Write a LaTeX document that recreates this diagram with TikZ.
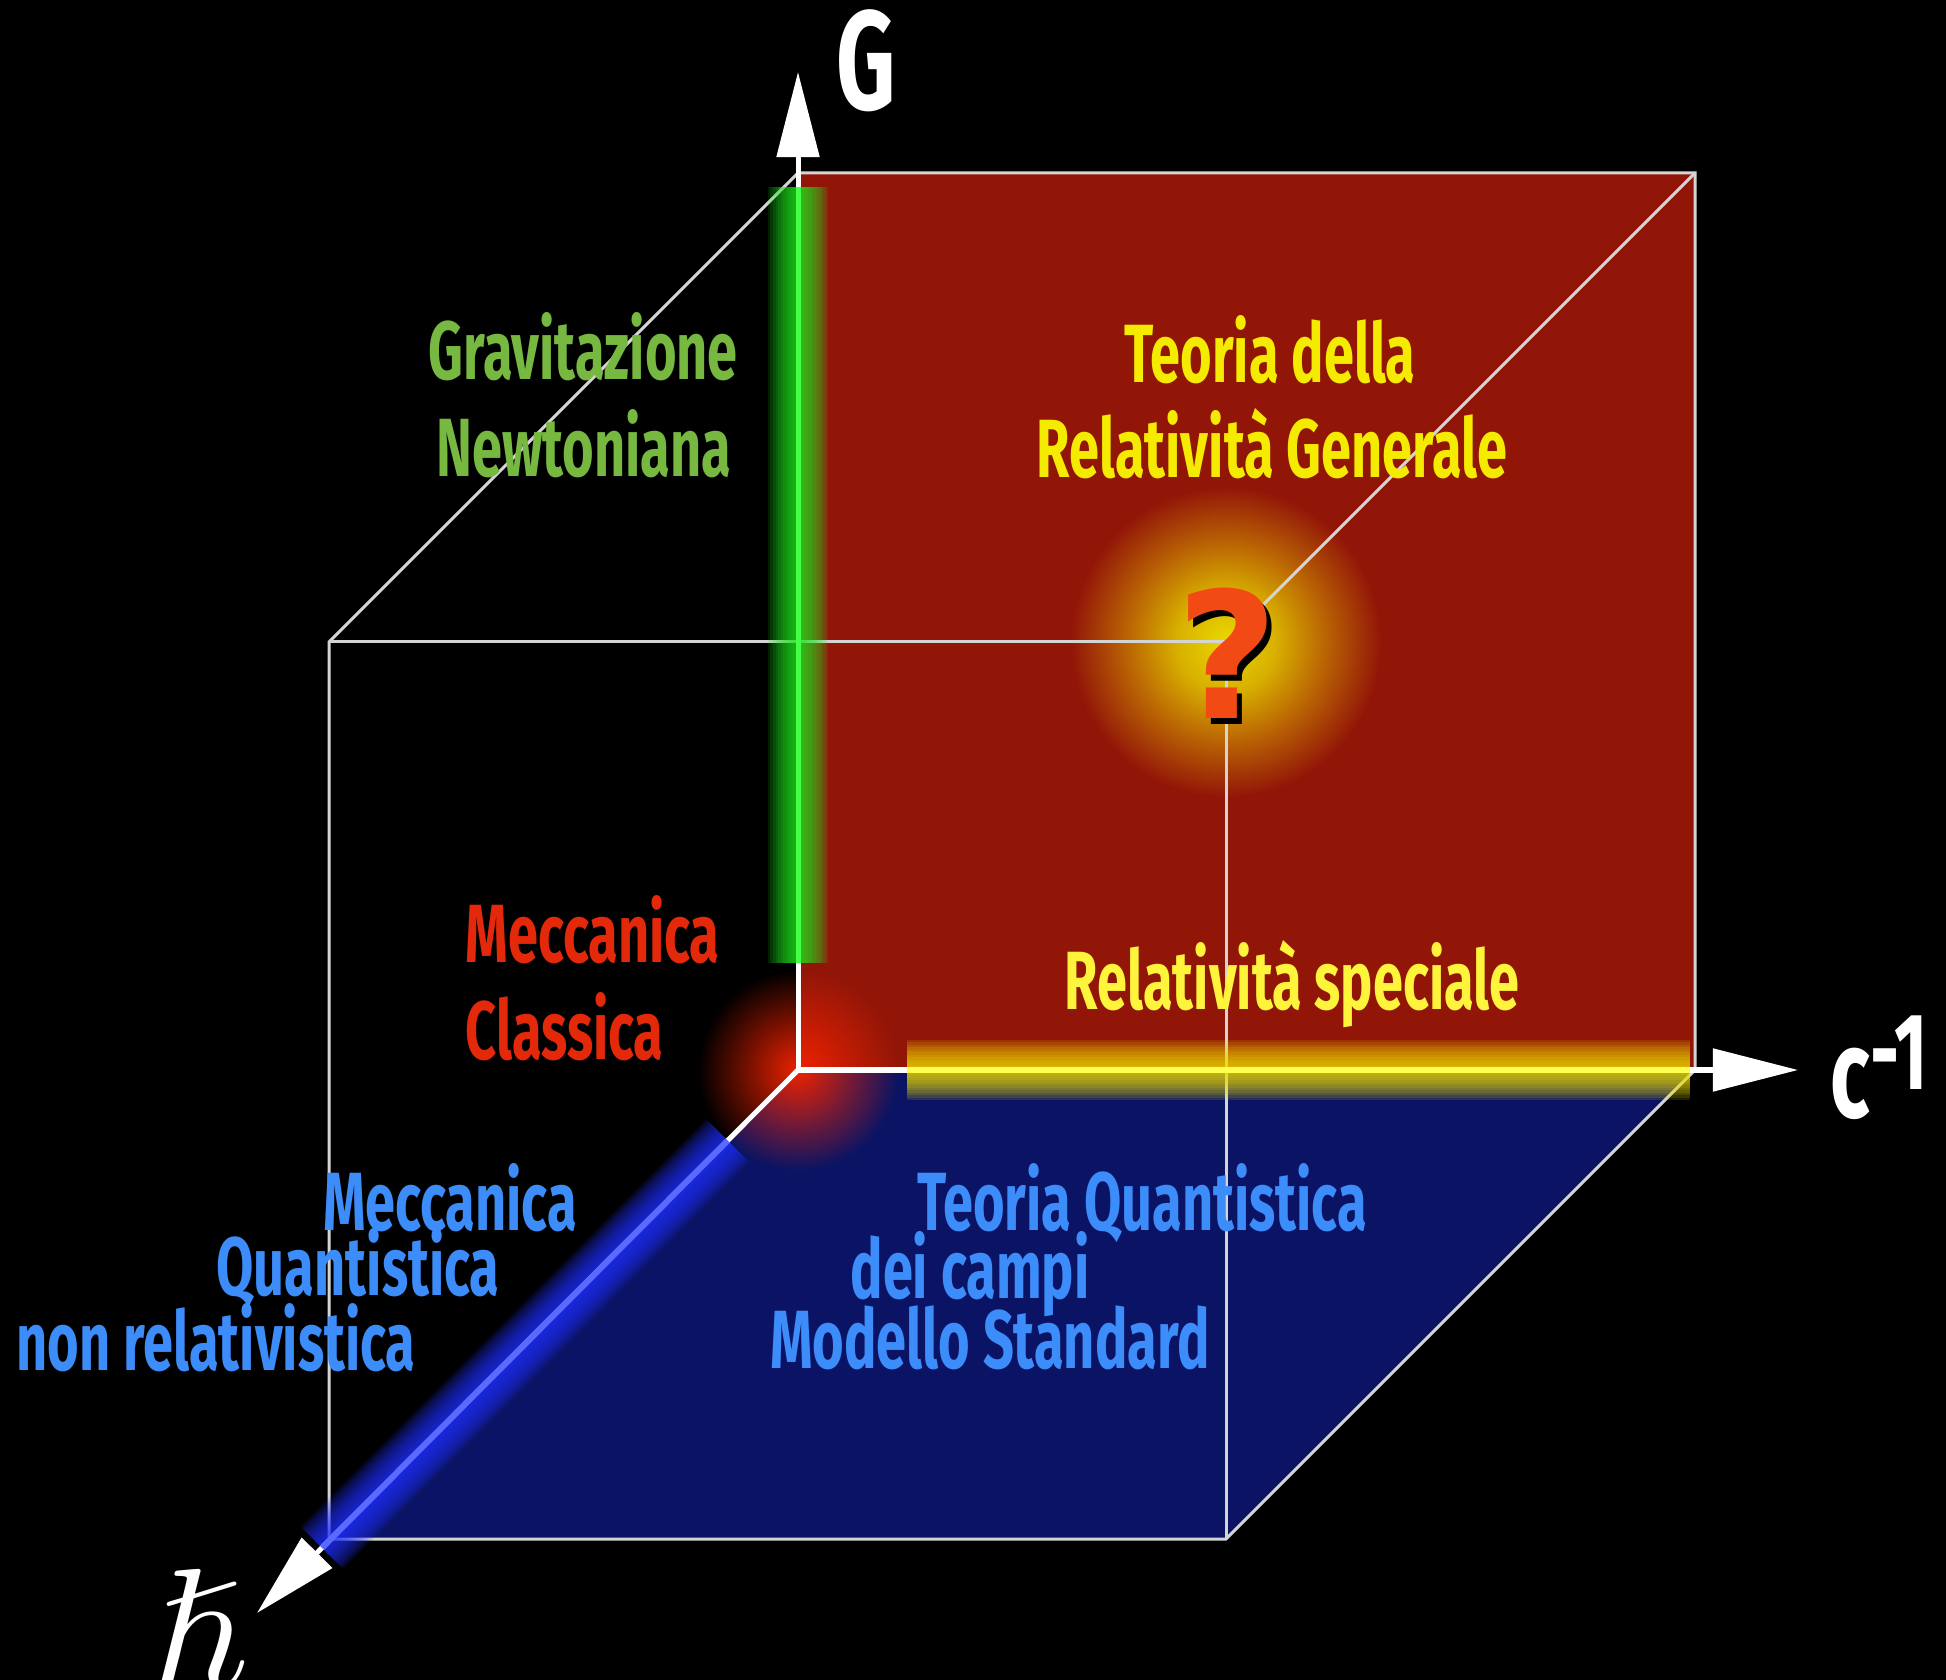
\documentclass[tikz,border=0pt]{standalone}
\usepackage{amsmath,amssymb}
\usepackage{fontspec}
\setmainfont{Fira Sans}[FakeStretch=0.655]
\newfontfamily\qmfont{DejaVu Sans}
\usetikzlibrary{arrows.meta, calc, fadings}
\definecolor{redface}{HTML}{921608}
\definecolor{blueface}{HTML}{0B1464}
\definecolor{edgegray}{HTML}{D4D4D4}
\definecolor{newton}{HTML}{76B840}
\definecolor{relgen}{HTML}{F5EB00}
\definecolor{relspec}{HTML}{FFF43C}
\definecolor{classic}{HTML}{E4280A}
\definecolor{quant}{HTML}{3C8CFA}
\definecolor{ggreen}{HTML}{1EE61E}
\definecolor{gcore}{HTML}{44FF44}
\definecolor{gyellow}{HTML}{F0E000}
\definecolor{ycore}{HTML}{FFFF50}
\definecolor{gblue}{HTML}{2030FF}
\definecolor{bcore}{HTML}{5A6AFF}
\definecolor{gred}{HTML}{EE2200}
\definecolor{qyellow}{HTML}{EAD800}
\definecolor{qgold}{HTML}{D8B000}
\definecolor{qamber}{HTML}{BA6404}
\definecolor{qmark}{HTML}{F24A15}
\tikzfading[name=softdisc, inner color=transparent!0, outer color=transparent!100]
\pgfdeclareradialshading{qglow}{\pgfpoint{0bp}{0bp}}{color(0bp)=(qyellow); color(8bp)=(qgold); color(16bp)=(qamber); color(25bp)=(redface); color(50bp)=(redface)}

\begin{document}
\begin{tikzpicture}[x=0.01cm, y=-0.01cm,
  axis/.style={draw=white, line width=0.05cm, -{Triangle[length=0.85cm, width=0.42cm]}},
  edge/.style={draw=edgegray, line width=0.03cm},
  glow/.style={line width=#1, opacity=0.13},
  lab/.style={font=\fontsize{23.5}{28}\selectfont\bfseries, inner sep=0pt, anchor=base},
  axl/.style={text=white, inner sep=0pt, anchor=base}]
  \fill[black] (0,0) rectangle (1946,1680);
  \useasboundingbox (0,0) rectangle (1946,1680);
  % --- cube corners ---
  \coordinate (O) at (798,1070);
  \coordinate (Bx) at (1695,1070);
  \coordinate (Bt) at (1695,173);
  \coordinate (Gt) at (798,173);
  \coordinate (F1) at (329,1539);
  \coordinate (F2) at (1226,1539);
  \coordinate (F3) at (1226,642);
  \coordinate (F4) at (329,642);
  \coordinate (Gtip) at (798,72);
  \coordinate (Ctip) at (1798,1070);
  \coordinate (Htip) at (257,1613);
  % --- faces ---
  \fill[redface] (O) rectangle (Bt);
  \fill[blueface] (O) -- (Bx) -- (F2) -- (F1) -- cycle;
  \shade[shading=qglow] (F3) circle (1.55cm);
  \fill[gred, path fading=softdisc] (O) circle (1.0cm);
  % --- cube edges ---
  \draw[edge] (Gt) -- (Bt) -- (Bx) -- (F2) -- (F1) -- (F4) -- cycle;
  \draw[edge] (F4) -- (F3) -- (F2);
  \draw[edge] (Bt) -- (F3);
  % --- glows along the axes ---
  \coordinate (g0) at (798,187);
  \coordinate (g1) at (798,963);
  \coordinate (y0) at (907,1070);
  \coordinate (y1) at (1690,1070);
  \coordinate (b0) at ($(O)!0.13!(Htip)$);
  \coordinate (b1) at ($(O)!0.88!(Htip)$);
  \foreach \w in {0.5,1.0,...,6.0}{
    \draw[ggreen, glow=\w mm] (g0) -- (g1);
    \draw[gyellow, glow=\w mm] (y0) -- (y1);
    \draw[gblue, glow=\w mm] (b0) -- (b1);
  }
  % --- axes ---
  \draw[axis] (O) -- (Gtip);
  \draw[axis] (O) -- (Ctip);
  \draw[axis] (O) -- (Htip);
  \draw[gcore, line width=0.05cm] (g0) -- (g1);
  \draw[ycore, line width=0.06cm] (y0) -- (y1);
  \draw[bcore, line width=0.06cm] (b0) -- (b1);
  % --- axis labels ---
  \node[axl, font=\fontsize{40}{40}\selectfont\bfseries] (glab) at (866,110) {G};
  \node[axl, anchor=base west, font=\fontsize{36}{36}\selectfont\bfseries] (clab) at (1830,1117)
    {c\raisebox{0.22em}{\fontsize{31}{31}\selectfont -1}};
  \node[axl] (hlab) at (198,1686) {\fontsize{48}{48}\selectfont$\hslash$};
  % --- regions ---
  \node[lab, text=newton] (grav) at (583,380) {Gravitazione};
  \node[lab, text=newton] (newt) at (584,477) {Newtoniana};
  \node[lab, text=relgen] (teor) at (1270,383) {Teoria della};
  \node[lab, text=relgen] (relg) at (1272,478) {Relatività Generale};
  \node[lab, text=classic, anchor=base west] (mecc) at (465,963) {Meccanica};
  \node[lab, text=classic, anchor=base west] (clas) at (465,1060) {Classica};
  \node[lab, text=relspec] (rels) at (1292,1010) {Relatività speciale};
  \node[lab, text=quant] (mq1) at (450,1230) {Meccanica};
  \node[lab, text=quant] (mq2) at (358,1295) {Quantistica};
  \node[lab, text=quant] (mq3) at (216,1370) {non relativistica};
  \node[lab, text=quant] (tq1) at (1142,1230) {Teoria Quantistica};
  \node[lab, text=quant] (tq2) at (970,1298) {dei campi};
  \node[lab, text=quant] (tq3) at (990,1368) {Modello Standard};
  % --- the open question ---
  \node[font=\qmfont\fontsize{50}{50}\selectfont\bfseries, text=black] (qs) at (1232,659) {?};
  \node[font=\qmfont\fontsize{50}{50}\selectfont\bfseries, text=qmark] (qm) at (1227,653) {?};
\end{tikzpicture}
\end{document}
